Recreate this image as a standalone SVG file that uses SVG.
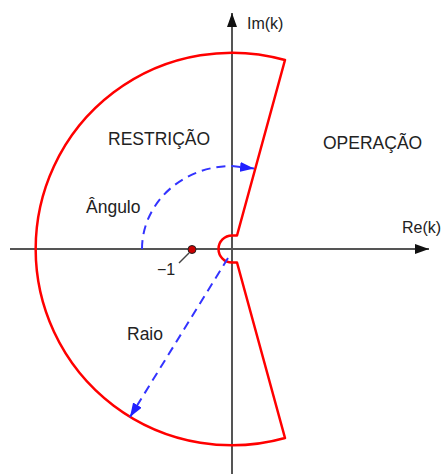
<svg xmlns="http://www.w3.org/2000/svg" width="442" height="474" viewBox="0 0 442 474">
<style>
.axis{stroke:#555;stroke-width:2;fill:none}
.red{stroke:#ff0000;stroke-width:2.5;fill:none;stroke-linejoin:round}
.dash{stroke:#3333ff;stroke-width:2;fill:none;stroke-dasharray:9 6}
text{font-family:"Liberation Sans",Arial,sans-serif;fill:#222}
.lbl{font-size:17.5px}
.ax{font-size:16px}
</style>
<defs>
<marker id="ah" viewBox="0 0 14 10" refX="14" refY="5" markerWidth="14" markerHeight="10" markerUnits="userSpaceOnUse" orient="auto">
<path d="M0,0 L14,5 L0,10 Z" fill="#111"/>
</marker>
<marker id="bh" viewBox="0 0 14 10" refX="14" refY="5" markerWidth="14" markerHeight="10" markerUnits="userSpaceOnUse" orient="auto">
<path d="M0,0 L14,5 L0,10 Z" fill="#2020ff"/>
</marker>
</defs>
<g id="connectors">
<path class="axis" d="M10,249 L429,249" marker-end="url(#ah)"/>
<path class="axis" d="M232,474 L232,13" marker-end="url(#ah)"/>
<path class="red" d="M285,60 L237,235.5 L232,235.5 A13.5,13.5 0 0,0 232,262.5 L237,262.5 L285,438 A196.3,196.3 0 1,1 285,60 Z"/>
<path class="dash" d="M142,249 A90,83 0 0,1 232,166 L254,168.5" marker-end="url(#bh)"/>
<path class="dash" d="M228,258 L130,417" marker-end="url(#bh)"/>
<path d="M189,253 L179,263" stroke="#444" stroke-width="1.5"/>
</g>
<g id="point-minus1">
<circle cx="192" cy="249.5" r="4" fill="#cc0000" stroke="#222" stroke-width="1"/>
<text class="ax" x="157" y="275">−1</text>
</g>
<g id="label-im"><text class="ax" x="247" y="29">Im(k)</text></g>
<g id="label-re"><text class="ax" x="402" y="233">Re(k)</text></g>
<g id="label-restricao"><text class="lbl" x="108" y="145">RESTRIÇÃO</text></g>
<g id="label-operacao"><text class="lbl" x="323" y="149">OPERAÇÃO</text></g>
<g id="label-angulo"><text class="lbl" x="86" y="213" font-size="18">Ângulo</text></g>
<g id="label-raio"><text class="lbl" x="127" y="340" font-size="18">Raio</text></g>
</svg>
